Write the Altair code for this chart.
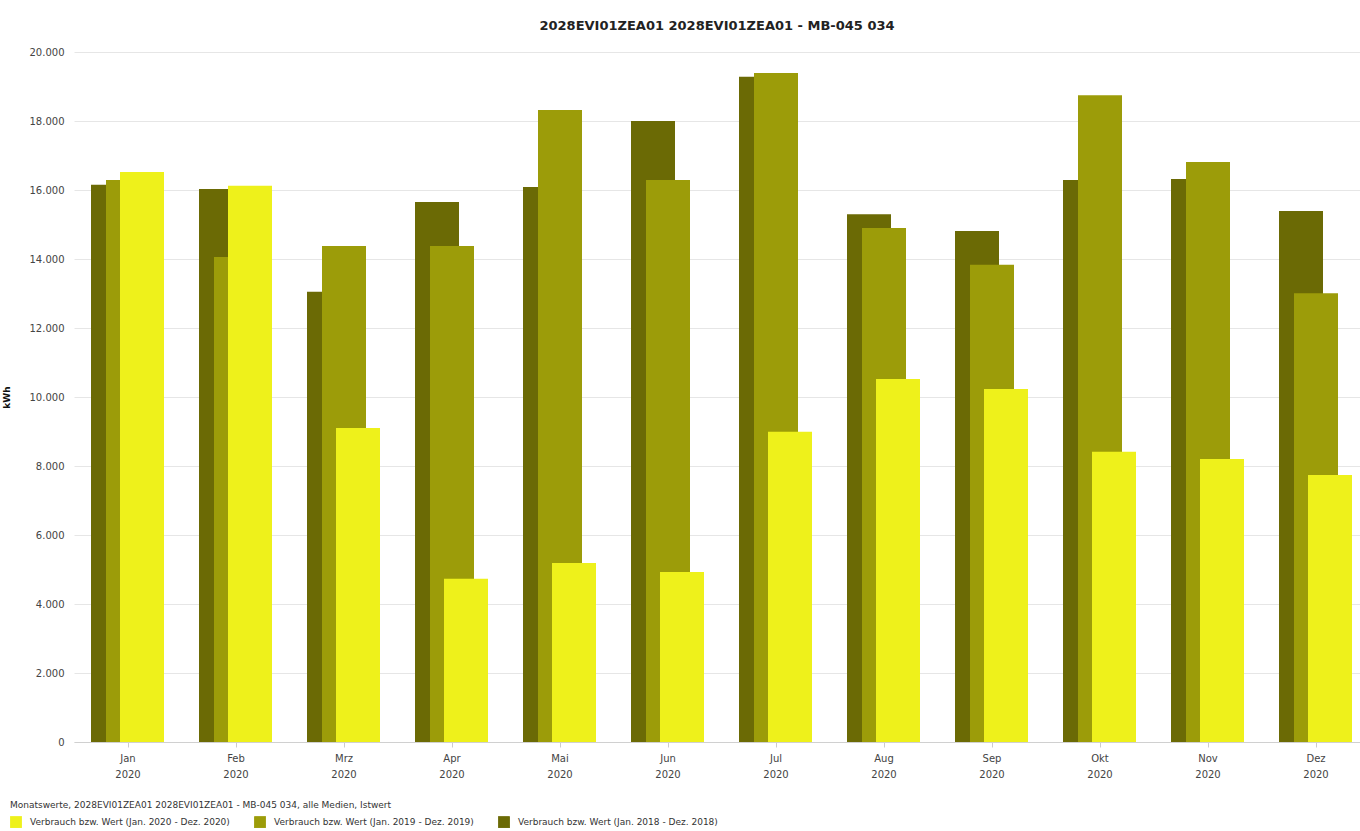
import altair as alt
import pandas as pd

months = ["Jan", "Feb", "Mrz", "Apr", "Mai", "Jun", "Jul", "Aug", "Sep", "Okt", "Nov", "Dez"]
s2018 = [16150, 16030, 13050, 15650, 16090, 18000, 19280, 15300, 14810, 16290, 16320, 15390]
s2019 = [16290, 14060, 14380, 14380, 18320, 16290, 19390, 14900, 13830, 18750, 16810, 13010]
s2020 = [16520, 16120, 9100, 4730, 5190, 4930, 8990, 10520, 10230, 8410, 8200, 7740]

labels = [
    "Verbrauch bzw. Wert (Jan. 2020 - Dez. 2020)",
    "Verbrauch bzw. Wert (Jan. 2019 - Dez. 2019)",
    "Verbrauch bzw. Wert (Jan. 2018 - Dez. 2018)",
]
colors = ["#eef11b", "#9c9c09", "#6b6a05"]

rows = []
for lab, vals in zip(labels, [s2020, s2019, s2018]):
    for m, v in zip(months, vals):
        rows.append({"Monat": m, "Wert": v, "Serie": lab})
df = pd.DataFrame(rows)

font = "DejaVu Sans"

x_enc = alt.X(
    "Monat:N",
    sort=months,
    scale=alt.Scale(range=[0, 1296], paddingInner=0, paddingOuter=0),
    axis=alt.Axis(
        title=None,
        labelExpr="[datum.label, '2020']",
        labelAngle=0,
        labelFontSize=10,
        labelColor="#444444",
        labelFont=font,
        labelPadding=6,
        labelLineHeight=16,
        tickColor="#cccccc",
        tickSize=5,
        domainColor="#d0d0d0",
        grid=False,
    ),
)
y_enc = alt.Y(
    "Wert:Q",
    scale=alt.Scale(domain=[0, 20000], nice=False),
    axis=alt.Axis(
        title="kWh",
        titleFontSize=9,
        titleFont=font,
        titleFontWeight="bold",
        titleColor="#111111",
        titlePadding=18,
        values=list(range(0, 20001, 2000)),
        labelExpr="replace(format(datum.value, ','), ',', '.')",
        labelFontSize=10,
        labelColor="#444444",
        labelFont=font,
        labelPadding=10,
        ticks=False,
        domain=False,
        gridColor="#e6e6e6",
    ),
)
color_enc = alt.Color(
    "Serie:N",
    scale=alt.Scale(domain=labels, range=colors),
    legend=alt.Legend(
        title="Monatswerte, 2028EVI01ZEA01 2028EVI01ZEA01 - MB-045 034, alle Medien, Istwert",
        titleFontSize=9,
        titleFontWeight="normal",
        titleFont=font,
        titleColor="#333333",
        titlePadding=6,
        titleLimit=800,
        orient="none",
        legendX=-64,
        legendY=749,
        direction="horizontal",
        symbolType="square",
        symbolSize=140,
        symbolStrokeWidth=0,
        symbolOpacity=1,
        labelFontSize=9,
        labelFont=font,
        labelColor="#333333",
        labelOffset=8,
        columnPadding=24,
        labelLimit=400,
    ),
)

base = alt.Chart(df)
offsets = {labels[2]: -15, labels[1]: 0, labels[0]: 14}
layers = []
for lab in [labels[2], labels[1], labels[0]]:
    layers.append(
        base.transform_filter(alt.datum.Serie == lab)
        .mark_bar(width=44, xOffset=offsets[lab])
        .encode(x=x_enc, y=y_enc, color=color_enc)
    )

chart = (
    alt.layer(*layers)
    .properties(
        width=1286,
        height=690,
        padding={"left": 74, "top": 52, "right": 0, "bottom": 89},
        autosize=alt.AutoSizeParams(type="none"),
        title=alt.TitleParams(
            "2028EVI01ZEA01 2028EVI01ZEA01 - MB-045 034",
            fontSize=13,
            font=font,
            fontWeight="bold",
            color="#222222",
            anchor="middle",
            offset=14,
        ),
    )
    .configure_view(stroke=None)
)

chart.save("out.html", embed_options={"renderer": "svg", "actions": False})
